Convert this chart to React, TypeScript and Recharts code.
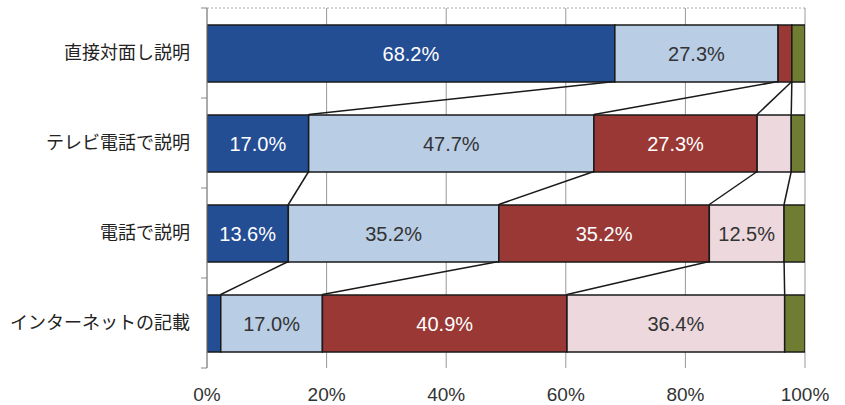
import { BarChart, Bar, XAxis, YAxis, CartesianGrid, ReferenceLine, LabelList } from 'recharts';

// categories (top to bottom)
const categories = ['直接対面し説明', 'テレビ電話で説明', '電話で説明', 'インターネットの記載'];

// series values (%) per category, left to right
const s1 = [68.2, 17.0, 13.6, 2.3];
const s2 = [27.3, 47.7, 35.2, 17.0];
const s3 = [2.3, 27.3, 35.2, 40.9];
const s4 = [0, 5.7, 12.5, 36.4];
const s5 = [2.2, 2.3, 3.5, 3.4];

const xTicks = [0, 20, 40, 60, 80, 100];

const seriesKeys = ['s1', 's2', 's3', 's4', 's5'];
const seriesColors = ['#234e94', '#b9cde5', '#993835', '#ecd8dd', '#6f7d33'];
const labelColors = ['#ffffff', '#333333', '#ffffff', '#333333', '#333333'];

const data = categories.map((name, i) => ({
  name,
  s1: s1[i],
  s2: s2[i],
  s3: s3[i],
  s4: s4[i],
  s5: s5[i],
}));

const BAR_SIZE = 57;
const HALF = BAR_SIZE / 2;

// cumulative right edge of each of the first four series, per category
const cumEnds = data.map((d: any) => {
  let acc = 0;
  return seriesKeys.slice(0, 4).map((k) => {
    acc += d[k];
    return acc;
  });
});

// Excel-style series lines between adjacent bars
const connectors: { x1: number; c1: string; x2: number; c2: string }[] = [];
for (let i = 0; i < categories.length - 1; i++) {
  for (let k = 0; k < 4; k++) {
    connectors.push({ x1: cumEnds[i][k], c1: categories[i], x2: cumEnds[i + 1][k], c2: categories[i + 1] });
  }
}

const numFont = '"Liberation Sans", Arial, sans-serif';

const CategoryTick = ({ x, y, payload, index }: any) => (
  <g>
    <text x={x} y={y} dy="0.35em" textAnchor="end" fontSize={18} fill="#222"
      fontFamily='"Noto Sans CJK JP", sans-serif'>
      {payload.value}
    </text>
    <line x1={x + 11} x2={x + 17} y1={y + 45} y2={y + 45} stroke="#888" />
    {index === 0 && <line x1={x + 11} x2={x + 17} y1={y - 45} y2={y - 45} stroke="#888" />}
  </g>
);

const makeLabel = (color: string) => (props: any) => {
  const { x, y, width, height, value } = props;
  if (value == null || value < 10) return null;
  return (
    <text x={x + width / 2} y={y + height / 2} dy="0.35em" textAnchor="middle"
      fontSize={20} fill={color} fontFamily={numFont}>
      {Number(value).toFixed(1)}%
    </text>
  );
};

const ConnectorShape = (props: any) => (
  <line x1={props.x1} y1={props.y1 + HALF} x2={props.x2} y2={props.y2 - HALF}
    stroke="#1a1a1a" strokeWidth={1.5} />
);

export default function App() {
  return (
    <div style={{ position: 'absolute', left: 0, top: 0, width: 845, height: 405, background: '#fff' }}>
      <BarChart
        width={845}
        height={405}
        data={data}
        layout="vertical"
        margin={{ top: 8, right: 40, bottom: 7, left: 0 }}
        barCategoryGap={0}
      >
        <CartesianGrid horizontal={false} stroke="#999" strokeWidth={1} />
        <CartesianGrid vertical={false} horizontalPoints={[8]} stroke="#aaa" strokeDasharray="2 2" />
        <XAxis
          type="number"
          domain={[0, 100]}
          ticks={xTicks}
          allowDataOverflow
          tickFormatter={(v) => `${v}%`}
          axisLine={false}
          tickLine={false}
          height={30}
          tick={{ fontSize: 19, fill: '#333', fontFamily: numFont }}
          tickMargin={14}
        />
        <YAxis
          type="category"
          dataKey="name"
          width={207}
          axisLine={{ stroke: '#888' }}
          tickLine={false}
          tickSize={0}
          tickMargin={17}
          tick={<CategoryTick />}
        />
        {seriesKeys.map((k, i) => (
          <Bar
            key={k}
            dataKey={k}
            stackId="a"
            fill={seriesColors[i]}
            stroke="#1a1a1a"
            strokeWidth={1.5}
            barSize={BAR_SIZE}
            isAnimationActive={false}
          >
            <LabelList dataKey={k} content={makeLabel(labelColors[i])} />
          </Bar>
        ))}
        {connectors.map((c, i) => (
          <ReferenceLine
            key={`c-${i}`}
            segment={[{ x: c.x1, y: c.c1 }, { x: c.x2, y: c.c2 }]}
            shape={ConnectorShape}
            ifOverflow="visible"
          />
        ))}
      </BarChart>
    </div>
  );
}
